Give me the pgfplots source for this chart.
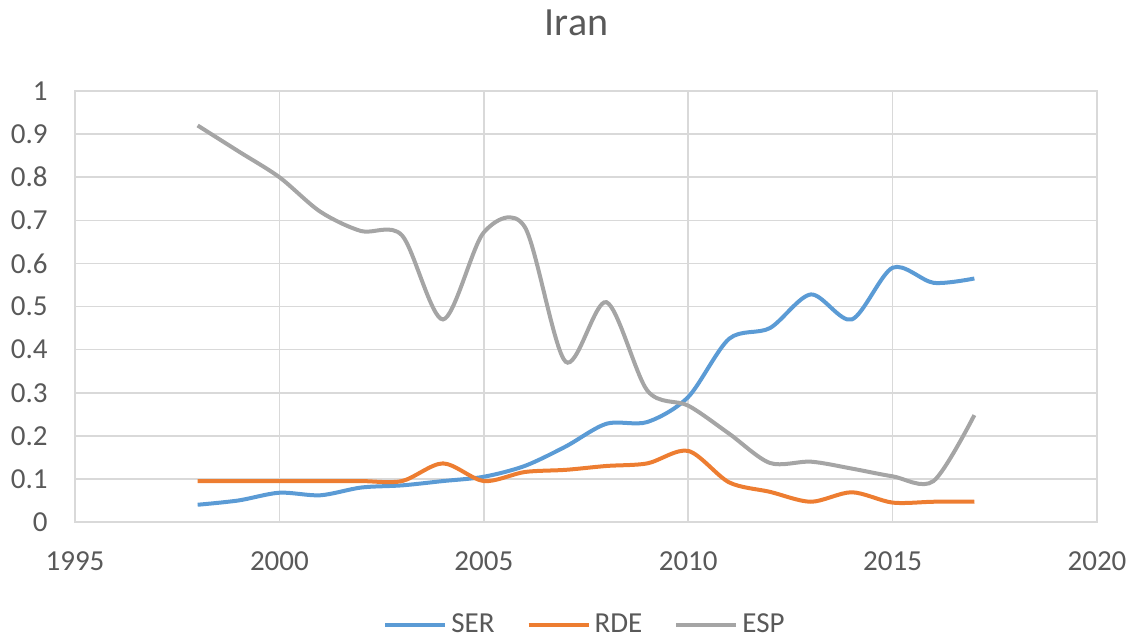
\documentclass[border=0pt]{standalone}
\usepackage{pgfplots}
\pgfplotsset{compat=1.18}
\usepackage{fontspec}
\setmainfont{Carlito}
\usetikzlibrary{calc}
\definecolor{ser}{HTML}{5B9BD5}
\definecolor{rde}{HTML}{ED7D31}
\definecolor{esp}{HTML}{A5A5A5}
\definecolor{gridc}{HTML}{D9D9D9}
\definecolor{txt}{HTML}{595959}
\begin{document}
\begin{tikzpicture}
\begin{axis}[
  scale only axis, width=511pt, height=215.5pt,
  xmin=1995, xmax=2020, ymin=0, ymax=1,
  xtick={1995,2000,...,2020}, ytick={0,0.1,...,1},
  yticklabels={0,0.1,0.2,0.3,0.4,0.5,0.6,0.7,0.8,0.9,1},
  xticklabel style={/pgf/number format/1000 sep={}},
  /pgf/number format/assume math mode=true,
  grid=major, major grid style={gridc, line width=0.8pt},
  axis line style={gridc, line width=0.8pt},
  tick style={draw=none},
  ticklabel style={font=\fontsize{14.5pt}{16pt}\selectfont, text=txt, inner sep=0pt},
  xticklabel style={anchor=base, yshift=-24pt},
  yticklabel style={anchor=east, xshift=-13.5pt},
  clip=false,
  legend columns=3,
  legend style={at={(0.5,-0.239)}, anchor=center, draw=none, fill=none,
    font=\fontsize{14.5pt}{16pt}\selectfont, text=txt,
    /tikz/every even column/.append style={column sep=14pt}},
  legend image code/.code={\draw[#1] (0pt,0pt) -- (30pt,0pt);},
  every axis plot/.append style={line width=2pt, smooth, tension=0.5},
]
\addplot[ser] coordinates {
(1998,0.040)(1999,0.050)(2000,0.068)(2001,0.062)(2002,0.080)(2003,0.085)(2004,0.095)(2005,0.105)(2006,0.130)(2007,0.175)(2008,0.228)(2009,0.232)(2010,0.290)(2011,0.425)(2012,0.450)(2013,0.528)(2014,0.470)(2015,0.590)(2016,0.555)(2017,0.565)};
\addlegendentry{SER}
\addplot[rde] coordinates {
(1998,0.095)(1999,0.095)(2000,0.095)(2001,0.095)(2002,0.095)(2003,0.095)(2004,0.136)(2005,0.095)(2006,0.116)(2007,0.121)(2008,0.130)(2009,0.136)(2010,0.165)(2011,0.092)(2012,0.070)(2013,0.047)(2014,0.069)(2015,0.045)(2016,0.047)(2017,0.047)};
\addlegendentry{RDE}
\addplot[esp] coordinates {
(1998,0.920)(1999,0.860)(2000,0.800)(2001,0.720)(2002,0.675)(2003,0.665)(2004,0.470)(2005,0.672)(2006,0.685)(2007,0.372)(2008,0.510)(2009,0.305)(2010,0.270)(2011,0.205)(2012,0.137)(2013,0.140)(2014,0.124)(2015,0.106)(2016,0.095)(2017,0.248)};
\addlegendentry{ESP}
\node[text=txt, font=\fontsize{20pt}{24pt}\selectfont] at (rel axis cs:0.5,1) [xshift=-4.75pt, yshift=34pt] {Iran};
\coordinate (A) at (rel axis cs:0,0);
\coordinate (B) at (rel axis cs:1,1);
\end{axis}
\path ($(A)+(-37.5pt,-59.5pt)$) rectangle ($(B)+(19.5pt,45.5pt)$);
\end{tikzpicture}
\end{document}
